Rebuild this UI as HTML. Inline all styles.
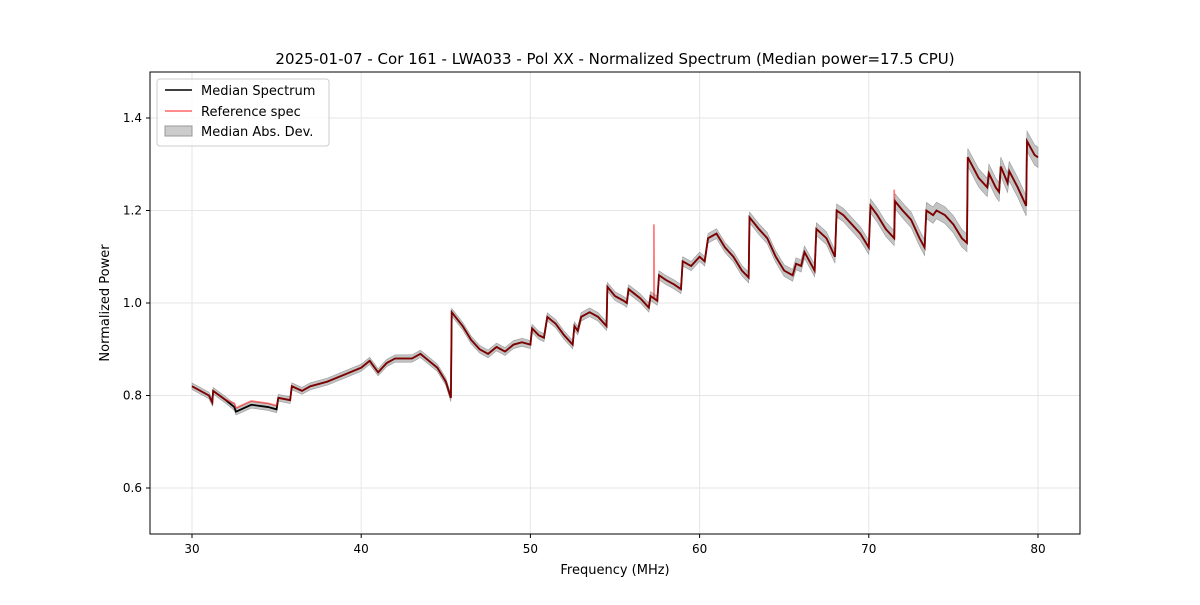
<!DOCTYPE html>
<html><head><meta charset="utf-8"><style>
body{margin:0;background:#fff;font-family:"Liberation Sans","DejaVu Sans",sans-serif}
svg text{font-family:"DejaVu Sans","Liberation Sans",sans-serif}
</style></head><body>
<svg id="chart" width="1200" height="600" xmlns="http://www.w3.org/2000/svg">
<rect width="1200" height="600" fill="#fff"/>
<text x="615" y="64" font-size="15" text-anchor="middle">2025-01-07 - Cor 161 - LWA033 - Pol XX - Normalized Spectrum (Median power=17.5 CPU)</text>
<g id="grid"></g>
<g id="band"></g>
<g id="lines"></g>
<rect x="150" y="72" width="930" height="462" fill="none" stroke="#000" stroke-width="1"/>
<g id="ticks"></g>
<text x="615" y="574" font-size="13" text-anchor="middle">Frequency (MHz)</text>
<text transform="translate(109,303) rotate(-90)" font-size="13" text-anchor="middle">Normalized Power</text>
<g>
<rect x="157" y="79" width="172" height="67" rx="3" fill="#fff" fill-opacity="0.8" stroke="#ccc"/>
<line x1="165" y1="90" x2="192" y2="90" stroke="#000" stroke-width="1.5"/>
<text x="201" y="95" font-size="13">Median Spectrum</text>
<line x1="165" y1="111" x2="192" y2="111" stroke="#f00" stroke-opacity="0.6" stroke-width="1.5"/>
<text x="201" y="116" font-size="13">Reference spec</text>
<rect x="165" y="126" width="27" height="10" fill="#ccc" stroke="#999"/>
<text x="201" y="136" font-size="13">Median Abs. Dev.</text>
</g>
</svg>
<script>
const xTicks=[30,40,50,60,70,80];
const yTicks=[0.6,0.8,1.0,1.2,1.4];
const yTickLabels=["0.6","0.8","1.0","1.2","1.4"];
const freqs=[30,30.5,31,31.2,31.25,32,32.5,32.6,33.5,34.5,35,35.1,35.8,35.9,36.5,37,38,39,40,40.5,41,41.5,42,43,43.5,44,44.5,45,45.3,45.35,46,46.5,47,47.5,48,48.5,49,49.5,50,50.1,50.5,50.8,51,51.5,52,52.5,52.6,52.8,53,53.5,54,54.5,54.55,55,55.5,55.7,55.8,56.5,57,57.1,57.5,57.6,58,58.5,58.9,59,59.5,60,60.3,60.5,61,61.5,62,62.5,62.9,62.95,63.5,64,64.5,65,65.5,65.7,66,66.2,66.5,66.8,66.9,67.5,68,68.1,68.5,69,69.5,70,70.1,70.5,71,71.5,71.55,72,72.5,73,73.3,73.4,73.8,74,74.5,75,75.5,75.8,75.85,76.5,77,77.1,77.5,77.7,77.8,78.2,78.3,78.8,79.3,79.35,79.8,80];
const median=[0.82,0.81,0.80,0.785,0.81,0.79,0.775,0.765,0.78,0.775,0.77,0.795,0.79,0.82,0.81,0.82,0.83,0.845,0.86,0.875,0.85,0.87,0.88,0.88,0.89,0.875,0.86,0.83,0.795,0.98,0.95,0.92,0.90,0.89,0.905,0.895,0.91,0.915,0.91,0.945,0.93,0.925,0.97,0.955,0.93,0.91,0.95,0.94,0.97,0.98,0.97,0.95,1.035,1.015,1.005,1.0,1.03,1.01,0.99,1.015,1.005,1.06,1.05,1.04,1.03,1.09,1.08,1.10,1.09,1.14,1.15,1.12,1.10,1.07,1.055,1.185,1.16,1.14,1.10,1.07,1.06,1.085,1.08,1.11,1.09,1.07,1.16,1.14,1.10,1.20,1.19,1.17,1.15,1.12,1.21,1.19,1.16,1.14,1.22,1.20,1.18,1.14,1.12,1.20,1.19,1.20,1.19,1.17,1.14,1.13,1.315,1.27,1.25,1.28,1.25,1.24,1.295,1.26,1.285,1.25,1.21,1.35,1.32,1.315];
const refSpikeFreqs=[57.3,71.5];
const refSpikeValues=[1.17,1.245];
const madFreqs=[30,45,60,70,80];
const madValues=[0.007,0.008,0.01,0.015,0.022];
const X=f=>192+(f-30)*(1038-192)/50;
const Y=v=>303-(v-1.0)*462.5;
const NS="http://www.w3.org/2000/svg";
function mk(parent,tag,attrs){const e=document.createElementNS(NS,tag);for(const k in attrs)e.setAttribute(k,attrs[k]);document.getElementById(parent).appendChild(e);return e;}
function mad(f){for(let i=1;i<madFreqs.length;i++){if(f<=madFreqs[i]){const t=(f-madFreqs[i-1])/(madFreqs[i]-madFreqs[i-1]);return madValues[i-1]+t*(madValues[i]-madValues[i-1]);}}return madValues[madValues.length-1];}
xTicks.forEach(t=>{
 let g=mk('grid','line',{x1:X(t),x2:X(t),y1:72,y2:534,stroke:'#e6e6e6'});
 
 let l=mk('ticks','line',{x1:X(t),x2:X(t),y1:534,y2:538,stroke:'#000'});
 
 let tx=mk('ticks','text',{x:X(t),y:553,'font-size':12,'text-anchor':'middle'});tx.textContent=t;
 
});
yTicks.forEach((t,i)=>{
 let g=mk('grid','line',{x1:150,x2:1080,y1:Y(t),y2:Y(t),stroke:'#e6e6e6'});
 
 let l=mk('ticks','line',{x1:146,x2:150,y1:Y(t),y2:Y(t),stroke:'#000'});
 
 let tx=mk('ticks','text',{x:142,y:Y(t)+4,'font-size':12,'text-anchor':'end'});tx.textContent=yTickLabels[i];
 
});
let up=freqs.map((f,i)=>X(f)+','+Y(median[i]+mad(f)));
let dn=freqs.map((f,i)=>X(f)+','+Y(median[i]-mad(f))).reverse();
let band=mk('band','polygon',{points:up.concat(dn).join(' '),fill:'#b0b0b0','fill-opacity':0.75,stroke:'#999','stroke-width':0.6});

let mp=mk('lines','polyline',{points:freqs.map((f,i)=>X(f)+','+Y(median[i])).join(' '),fill:'none',stroke:'#000','stroke-width':1.8});

let rpts=[];
freqs.forEach((f,i)=>{
 let v=median[i]+((f>=32.5&&f<=35)?0.008:0);
 refSpikeFreqs.forEach((sf,j)=>{if(i>0&&freqs[i-1]<sf&&f>=sf){const vb=median[i-1]+(median[i]-median[i-1])*(sf-freqs[i-1])/(f-freqs[i-1]);rpts.push(X(sf)+','+Y(vb));rpts.push(X(sf)+','+Y(refSpikeValues[j]));rpts.push(X(sf+0.02)+','+Y(vb));}});
 rpts.push(X(f)+','+Y(v));
});
let rp=mk('lines','polyline',{points:rpts.join(' '),fill:'none',stroke:'#f00','stroke-opacity':0.5,'stroke-width':1.8});

</script>
</body></html>
